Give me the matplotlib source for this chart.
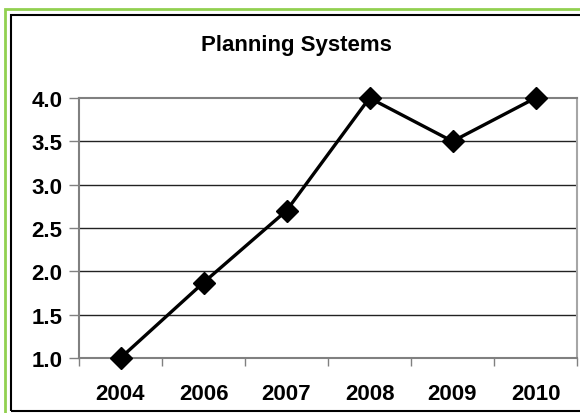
import matplotlib
matplotlib.use("Agg")
import matplotlib.pyplot as plt
from matplotlib.patches import Rectangle

categories = ["2004", "2006", "2007", "2008", "2009", "2010"]
values = [1.0, 1.87, 2.7, 4.0, 3.5, 4.0]
yticks = [1.0, 1.5, 2.0, 2.5, 3.0, 3.5, 4.0]
title = "Planning Systems"

plt.rcParams['font.family'] = ['Liberation Sans', 'DejaVu Sans']

W, H = 580, 414
fig = plt.figure(figsize=(W / 100, H / 100), dpi=100)
fig.patch.set_facecolor("white")

# outer green frame and inner black frame (extending beyond the right/bottom edge)
fig.patches.append(Rectangle((4.5 / W, -0.1), 1.2, 1 - 9.5 / H + 0.1, transform=fig.transFigure,
                             fill=False, edgecolor="#92D050", linewidth=2.0))
fig.patches.append(Rectangle((10.5 / W, 1 - 411.5 / H), 1.2, (411.5 - 15.5) / H, transform=fig.transFigure,
                             fill=False, edgecolor="black", linewidth=1.5))

ax = fig.add_axes([79 / W, 1 - 359 / H, (577 - 79) / W, (359 - 99) / H])
x = list(range(len(categories)))
ax.plot(x, values, color="black", linewidth=2.4, marker="D", markersize=11.5,
        markerfacecolor="black", markeredgecolor="black", clip_on=False, zorder=5)

ax.set_xlim(-0.5, len(categories) - 0.5)
ax.set_ylim(1.0, 4.0)
ax.set_yticks(yticks)
ax.set_yticklabels([f"{v:.1f}" for v in yticks], fontsize=16, fontweight="bold")
ax.set_xticks(x)
ax.set_xticklabels(categories, fontsize=16, fontweight="bold")
ax.set_xticks([i - 0.5 for i in range(len(categories) + 1)], minor=True)
ax.tick_params(axis="x", which="major", length=0, pad=18)
ax.tick_params(axis="x", which="minor", length=6, width=1, color="#808080", direction="out")
ax.tick_params(axis="y", length=7, width=1, color="#808080", direction="out", pad=5)

for v in yticks[1:-1]:
    ax.axhline(v, color="#222222", linewidth=1.0, zorder=1)

for s in ["left", "bottom", "top", "right"]:
    ax.spines[s].set_color("#808080")
    ax.spines[s].set_linewidth(1.5)
ax.spines["right"].set_color("#A6A6A6")

fig.text(296 / W, 1 - 45 / H, title, ha="center", va="center", fontsize=16, fontweight="bold")

fig.savefig("out.png", dpi=100)
